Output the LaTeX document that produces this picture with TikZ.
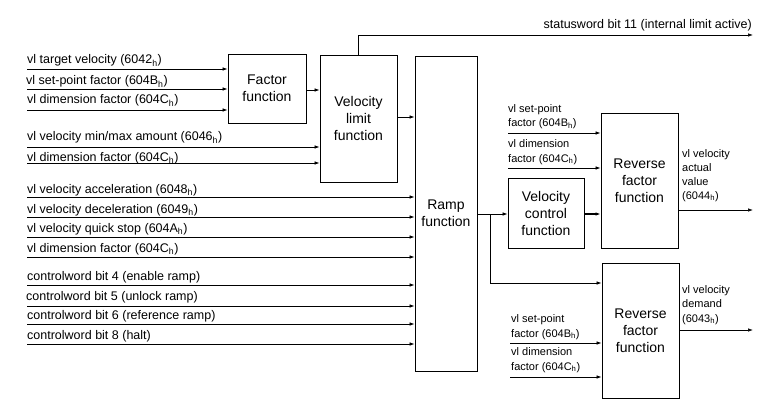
\documentclass[tikz,border=0pt]{standalone}
\usepackage{fontspec}
\setmainfont{Liberation Sans}
\usetikzlibrary{arrows.meta}
\begin{document}
\begin{tikzpicture}[x=1pt,y=-1pt,
  box/.style={draw, line width=0.8pt, inner sep=0pt, align=center, font=\fontsize{14}{17}\selectfont},
  arr/.style={draw, line width=0.7pt, -{Latex[length=5pt,width=3.5pt]}},
  lbl/.style={inner sep=0pt, anchor=base west, font=\fontsize{12.5}{15}\selectfont},
  rlbl/.style={inner sep=0pt, anchor=base west, align=left, font=\fontsize{11}{14.5}\selectfont}]
\useasboundingbox (0,0) rectangle (768,409);
% boxes
\node[box, minimum width=78pt, minimum height=69pt] (fac) at (267,88.5) {Factor\\function};
\node[box, minimum width=77pt, minimum height=127pt] (vl) at (358.5,118.5) {Velocity\\limit\\function};
\node[box, minimum width=62pt, minimum height=315pt] (ramp) at (446,213.5) {Ramp\\function};
\node[box, minimum width=76pt, minimum height=70pt] (vc) at (546,213) {Velocity\\control\\function};
\node[box, minimum width=77pt, minimum height=135pt] (rt) at (639.5,180.5) {Reverse\\factor\\function};
\node[box, minimum width=77pt, minimum height=135pt] (rb) at (640.5,330.5) {Reverse\\factor\\function};
% left labels
\node[lbl] (t1) at (27,64) {vl target velocity (6042\textsubscript{h})};
\node[lbl] (t2) at (26,85) {vl set-point factor (604B\textsubscript{h})};
\node[lbl] (t3) at (27,104) {vl dimension factor (604C\textsubscript{h})};
\node[lbl] (t4) at (27,141) {vl velocity min/max amount (6046\textsubscript{h})};
\node[lbl] (t5) at (27,161) {vl dimension factor (604C\textsubscript{h})};
\node[lbl] (t6) at (27,193) {vl velocity acceleration (6048\textsubscript{h})};
\node[lbl] (t7) at (27,213) {vl velocity deceleration (6049\textsubscript{h})};
\node[lbl] (t8) at (27,232) {vl velocity quick stop (604A\textsubscript{h})};
\node[lbl] (t9) at (27,252) {vl dimension factor (604C\textsubscript{h})};
\node[lbl] (t10) at (27,280) {controlword bit 4 (enable ramp)};
\node[lbl] (t11) at (26,300) {controlword bit 5 (unlock ramp)};
\node[lbl] (t12) at (27,319) {controlword bit 6 (reference ramp)};
\node[lbl] (t13) at (27,339) {controlword bit 8 (halt)};
% input start coordinates
\coordinate (s1) at (27,69);
\coordinate (s2) at (27,89);
\coordinate (s3) at (27,110);
\coordinate (s4) at (27,147);
\coordinate (s5) at (27,163);
\coordinate (s6) at (27,197);
\coordinate (s7) at (27,217);
\coordinate (s8) at (27,237);
\coordinate (s9) at (27,257);
\coordinate (s10) at (27,285);
\coordinate (s11) at (27,306);
\coordinate (s12) at (27,324);
\coordinate (s13) at (27,344);
\foreach \i in {1,2,3} \draw[arr] (s\i) -- (s\i -| fac.west);
\foreach \i in {4,5} \draw[arr] (s\i) -- (s\i -| vl.west);
\foreach \i in {6,...,13} \draw[arr] (s\i) -- (s\i -| ramp.west);
% internal connectors
\coordinate (f1) at (fac.east |- 0,90);
\draw[arr] (f1) -- (f1 -| vl.west);
\coordinate (v1) at (vl.east |- 0,117);
\draw[arr] (v1) -- (v1 -| ramp.west);
% statusword
\coordinate (sw) at (753,35);
\draw[arr] (vl.north) -- (vl.north |- sw) -- (sw);
\node[lbl, anchor=base east] (swt) at (752,29) {statusword bit 11 (internal limit active)};
% ramp outputs
\coordinate (r1) at (ramp.east |- 0,214);
\coordinate (br) at (490,214);
\draw[arr] (r1) -- (r1 -| vc.west);
\draw[arr] (br) -- (490,283) -- (rb.west |- 0,283);
\coordinate (c1) at (vc.east |- 0,214);
\draw[arr, line width=1.4pt] (c1) -- (c1 -| rt.west);
% right-top inputs
\node[rlbl] (rt1) at (508,127) {vl set-point\\factor (604B\textsubscript{h})};
\node[rlbl] (rt2) at (508,162) {vl dimension\\factor (604C\textsubscript{h})};
\coordinate (p1) at (508,133);
\coordinate (p2) at (508,168);
\draw[arr] (p1) -- (p1 -| rt.west);
\draw[arr] (p2) -- (p2 -| rt.west);
% right-bottom inputs
\node[rlbl] (rb1) at (511,337) {vl set-point\\factor (604B\textsubscript{h})};
\node[rlbl] (rb2) at (511,370) {vl dimension\\factor (604C\textsubscript{h})};
\coordinate (q1) at (510,343);
\coordinate (q2) at (510,377);
\draw[arr] (q1) -- (q1 -| rb.west);
\draw[arr] (q2) -- (q2 -| rb.west);
% outputs
\coordinate (o1) at (753,210);
\coordinate (o2) at (753,330);
\draw[arr] (rt.east |- o1) -- (o1);
\draw[arr] (rb.east |- o2) -- (o2);
\node[rlbl, font=\fontsize{11}{14}\selectfont] (ot) at (682,199) {vl velocity\\actual\\value\\(6044\textsubscript{h})};
\node[rlbl] (ob) at (682,322) {vl velocity\\demand\\(6043\textsubscript{h})};
\end{tikzpicture}
\end{document}
